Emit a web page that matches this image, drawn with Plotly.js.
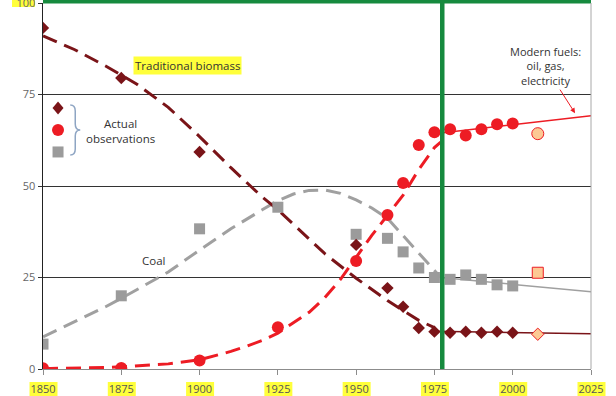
<!DOCTYPE html>
<html><head><meta charset="utf-8">
<script src="https://cdn.plot.ly/plotly-3.0.1.min.js"></script>
<style>html,body{margin:0;padding:0;background:#fff}#chart{width:616px;height:396px}</style>
</head><body><div id="chart"></div>
<script>
// ---- data ----
const xTicks = [1850,1875,1900,1925,1950,1975,2000,2025];
const xTickLabels = ['1850','1875','1900','1925','1950','1975','2000','2025'];
const yTicks = [0,25,50,75,100];
const yTickLabels = ['0','25','50','75','100'];

const biomassYears = [1850,1875,1900,1950,1960,1965,1970,1975,1980,1985,1990,1995,2000];
const biomassObs   = [93.2,79.5,59.3,33.9,22.1,17.0,11.2,10.2,9.9,10.2,9.9,10.2,9.9];
const modernYears  = [1850,1875,1900,1925,1950,1960,1965,1970,1975,1980,1985,1990,1995,2000];
const modernObs    = [0.2,0.3,2.3,11.4,29.5,42.1,50.8,61.2,64.7,65.5,63.8,65.5,66.9,67.1];
const coalYears    = [1850,1875,1900,1925,1950,1960,1965,1970,1975,1980,1985,1990,1995,2000];
const coalObs      = [6.8,20.0,38.3,44.2,36.8,35.7,32.0,27.6,25.0,24.5,25.7,24.5,23.0,22.7];

const projYear = [2008];
const biomassProj = [9.5];
const modernProj  = [64.3];
const coalProj    = [26.3];

const biomassFitYears = [1850,1860,1870,1875,1880,1890,1900,1910,1920,1925,1930,1940,1950,1960,1965,1970,1975];
const biomassFit      = [91,87.3,82.8,80.3,77.8,71.5,63.5,55,47,43.5,39.5,31.5,24.8,18.7,16,13.3,11.3];
const modernFitYears  = [1850,1860,1870,1875,1880,1890,1900,1910,1915,1920,1925,1930,1935,1940,1945,1950,1955,1960,1965,1970,1975,1977];
const modernFit       = [0.1,0.2,0.4,0.6,0.8,1.4,2.5,4.8,6.2,7.8,9.8,12.6,15.5,19.5,24.5,30.5,36.5,42,47.5,54.5,60.5,62];
const coalFitYears    = [1850,1860,1870,1875,1880,1890,1900,1910,1920,1925,1930,1935,1940,1945,1950,1955,1960,1965,1970,1975,1977];
const coalFit         = [8.8,12.8,17,19.3,21.7,26.5,32.5,38.3,43.5,46,47.8,48.8,48.9,48,46.2,44,41.2,36.5,31.5,27,25];

const biomassTrendYears = [1975,2025], biomassTrend = [10.3,9.6];
const modernTrendYears  = [1975,2025], modernTrend  = [64.3,69.2];
const coalTrendYears    = [1977,2025], coalTrend    = [25.0,21.1];

const divideYear = 1977.5;

// ---- styles ----
const C_BIO = '#7a1418', C_MOD = '#ed1c24', C_COAL = '#a0a0a0', C_GREEN = '#168a3e';
const PROJ_FILL = '#fcc994';
const DASH = '15px,8px';
const FONT = 'Open Sans, DejaVu Sans, sans-serif';

const traces = [
  {x: coalFitYears, y: coalFit, mode:'lines', line:{color:C_COAL, width:3, dash:DASH}},
  {x: biomassFitYears, y: biomassFit, mode:'lines', line:{color:C_BIO, width:3, dash:DASH}},
  {x: modernFitYears, y: modernFit, mode:'lines', line:{color:C_MOD, width:3, dash:DASH}},
  {x: coalTrendYears, y: coalTrend, mode:'lines', line:{color:C_COAL, width:1.5}},
  {x: biomassTrendYears, y: biomassTrend, mode:'lines', line:{color:C_BIO, width:1.5}},
  {x: modernTrendYears, y: modernTrend, mode:'lines', line:{color:C_MOD, width:1.5}},
  {x: coalYears, y: coalObs, mode:'markers', marker:{symbol:'square', size:11, color:'#9b9b9b'}},
  {x: biomassYears, y: biomassObs, mode:'markers', marker:{symbol:'diamond', size:9.5, color:C_BIO}},
  {x: modernYears, y: modernObs, mode:'markers', marker:{symbol:'circle', size:12, color:C_MOD}},
  {x: projYear, y: coalProj, mode:'markers', marker:{symbol:'square', size:11, color:PROJ_FILL, line:{color:C_MOD, width:1}}},
  {x: projYear, y: biomassProj, mode:'markers', marker:{symbol:'diamond', size:9.5, color:PROJ_FILL, line:{color:C_MOD, width:1}}},
  {x: projYear, y: modernProj, mode:'markers', marker:{symbol:'circle', size:12, color:PROJ_FILL, line:{color:C_MOD, width:1}}}
].map(t => Object.assign({showlegend:false, hoverinfo:'skip'}, t));

const xr = [1850, 2025];
const toPaperX = v => (v - xr[0]) / (xr[1] - xr[0]);
const shapes = [];
// yellow highlights behind x tick labels
xTicks.forEach(v => {
  shapes.push({type:'rect', xref:'paper', yref:'paper', layer:'below',
    x0: toPaperX(v) - 13.5/548, x1: toPaperX(v) + 14.5/548, y0: -27/366, y1: -13/366,
    fillcolor:'#ffff3b', line:{width:0}});
});
// yellow highlight behind "100"
shapes.push({type:'rect', xref:'paper', yref:'paper', layer:'below',
  x0:-31/548, x1:-8/548, y0:1-4/366, y1:1+3/366, fillcolor:'#ffff3b', line:{width:0}});
// green top band and divider
shapes.push({type:'rect', xref:'paper', yref:'paper', x0:0, x1:1, y0:1-0.5/366, y1:1+3/366,
  fillcolor:C_GREEN, line:{width:0}, layer:'above'});
shapes.push({type:'line', xref:'x', yref:'paper', x0:divideYear, x1:divideYear, y0:0, y1:1+3/366,
  line:{color:C_GREEN, width:4.5}, layer:'above'});
// right border
shapes.push({type:'line', xref:'paper', yref:'paper', x0:1, x1:1, y0:0, y1:1, line:{color:'#a8a8a8', width:1}});
// legend key markers (pixel-sized)
const keyX = 1854.8;
shapes.push({type:'path', xref:'x', yref:'y', xsizemode:'pixel', ysizemode:'pixel', xanchor:keyX, yanchor:71.3,
  path:'M 0,6.5 L 5.5,0 L 0,-6.5 L -5.5,0 Z', fillcolor:C_BIO, line:{width:0}});
shapes.push({type:'circle', xref:'x', yref:'y', xsizemode:'pixel', ysizemode:'pixel', xanchor:keyX, yanchor:65.3,
  x0:-6, x1:6, y0:-6, y1:6, fillcolor:C_MOD, line:{width:0}});
shapes.push({type:'rect', xref:'x', yref:'y', xsizemode:'pixel', ysizemode:'pixel', xanchor:keyX, yanchor:59.3,
  x0:-5.5, x1:5.5, y0:-5.5, y1:5.5, fillcolor:'#9b9b9b', line:{width:0}});
// brace
shapes.push({type:'path', xref:'x', yref:'y', xsizemode:'pixel', ysizemode:'pixel', xanchor:1860.3, yanchor:65.3,
  path:'M -5,25 Q 0,25 0,19 L 0,6 Q 0,0 5,0 Q 0,0 0,-6 L 0,-19 Q 0,-25 -5,-25',
  line:{color:'#8ea5c3', width:1.5}});

const annotations = [
  {x:1896.3, y:82.8, text:'Traditional biomass', showarrow:false, bgcolor:'#ffff3b',
   font:{family:FONT, size:11.5, color:'#333'}, borderpad:1},
  {x:1874.6, y:64.9, text:'Actual<br>observations', showarrow:false,
   font:{family:FONT, size:11.5, color:'#333'}},
  {x:1885.2, y:29.6, text:'Coal', showarrow:false, font:{family:FONT, size:11.5, color:'#333'}},
  {x:2019.9, y:69.9, ax:-30, ay:-47, text:'Modern fuels:<br>oil, gas,<br>electricity',
   showarrow:true, arrowhead:2, arrowsize:1, arrowwidth:1, arrowcolor:C_MOD,
   font:{family:FONT, size:11, color:'#333'}}
];

const layout = {
  width:616, height:396,
  margin:{l:43, r:25, t:3, b:27, pad:0},
  paper_bgcolor:'#fff', plot_bgcolor:'#fff',
  showlegend:false,
  xaxis:{range:xr, tickvals:xTicks, ticktext:xTickLabels, showgrid:false, zeroline:false,
    showline:true, linecolor:'#8c8c8c', linewidth:1, ticks:'outside', ticklen:5, tickcolor:'#8c8c8c',
    ticklabelstandoff:5, ticklabeloverflow:'allow',
    tickfont:{family:FONT, size:11, color:'#555'}, fixedrange:true},
  yaxis:{range:[0,100], tickvals:yTicks, ticktext:yTickLabels, showgrid:true, gridcolor:'#333', gridwidth:1,
    zeroline:false, showline:true, linecolor:'#222', linewidth:1.5, ticks:'outside', ticklen:4, tickcolor:'#333',
    ticklabeloverflow:'allow',
    tickfont:{family:FONT, size:11, color:'#666'}, fixedrange:true},
  shapes:shapes, annotations:annotations
};

Plotly.newPlot('chart', traces, layout, {staticPlot:true, displayModeBar:false});
</script></body></html>
